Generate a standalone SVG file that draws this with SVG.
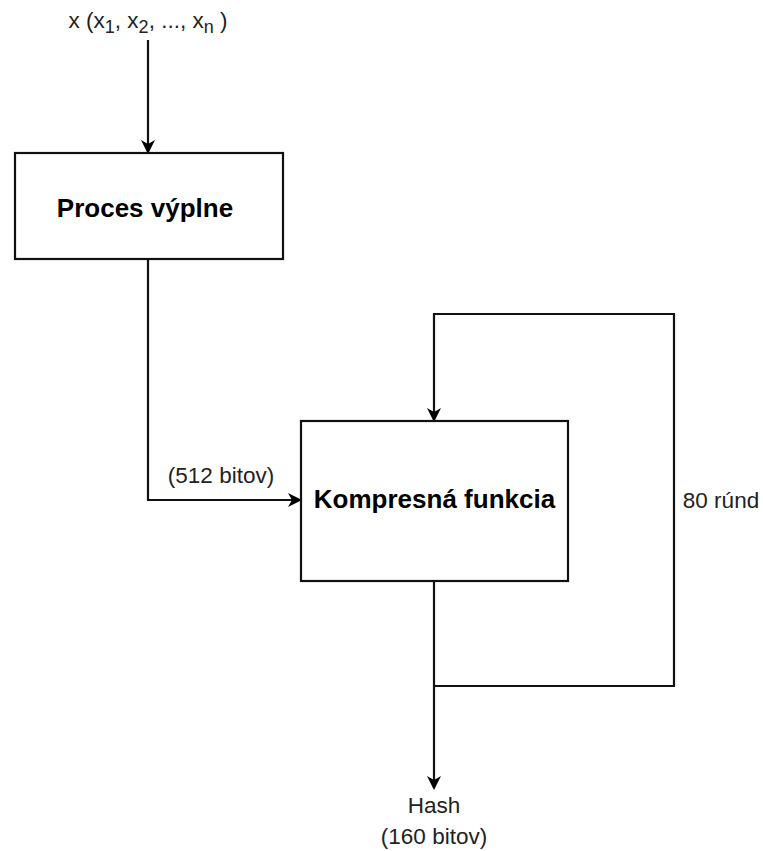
<svg xmlns="http://www.w3.org/2000/svg" width="763" height="851" viewBox="0 0 763 851">
<defs>
<style>
.box{fill:#fff;stroke:#111;stroke-width:2.2}
.ln{fill:none;stroke:#111;stroke-width:2.2}
.b{font-family:"Liberation Sans",Arial,sans-serif;font-weight:bold;font-size:26px;fill:#000;text-anchor:middle}
.t{font-family:"Liberation Sans",Arial,sans-serif;font-size:22.5px;fill:#222;text-anchor:middle}
</style>
<marker id="ar" markerWidth="14" markerHeight="14" refX="12" refY="7" orient="auto" markerUnits="userSpaceOnUse">
<path d="M0,0 L14,7 L0,14 L4,7 Z" fill="#000"/>
</marker>
</defs>
<rect width="763" height="851" fill="#fff"/>
<g id="connectors">
<path class="ln" d="M148,40 V152" marker-end="url(#ar)"/>
<path class="ln" d="M148,259 V500 H300" marker-end="url(#ar)"/>
<path class="ln" d="M434,686 H674 V314 H434 V420" marker-end="url(#ar)"/>
<path class="ln" d="M434,581 V788" marker-end="url(#ar)"/>
</g>
<g id="input"><text class="t" x="148" y="28">x (x<tspan font-size="18" dy="5">1</tspan><tspan dy="-5">, x</tspan><tspan font-size="18" dy="5">2</tspan><tspan dy="-5">, ..., x</tspan><tspan font-size="18" dy="5">n</tspan><tspan dy="-5"> )</tspan></text></g>
<g id="padding"><rect class="box" x="15" y="153" width="268" height="106"/><text class="b" x="145" y="217">Proces výplne</text></g>
<g id="compress"><rect class="box" x="301" y="421" width="267" height="160"/><text class="b" x="434.5" y="508">Kompresná funkcia</text></g>
<g id="label512"><text class="t" x="221" y="483">(512 bitov)</text></g>
<g id="label80"><text class="t" x="721" y="508">80 rúnd</text></g>
<g id="output"><text class="t" x="434" y="813">Hash</text><text class="t" x="434" y="844">(160 bitov)</text></g>
</svg>
